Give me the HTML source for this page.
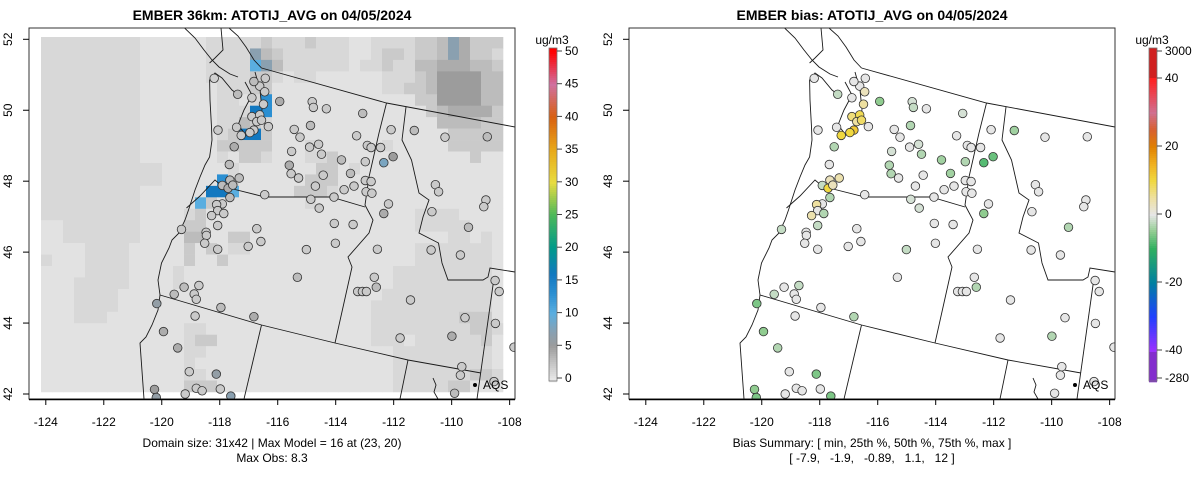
<!DOCTYPE html>
<html><head><meta charset="utf-8">
<style>
html,body{margin:0;padding:0;background:#fff;}
svg text{font-family:"Liberation Sans",Arial,sans-serif;fill:#000;white-space:pre;}
</style></head>
<body>
<svg id="root" xmlns="http://www.w3.org/2000/svg" width="1200" height="479" viewBox="0 0 1200 479">
<defs>
<clipPath id="clipL"><rect x="29" y="28" width="486" height="371"/></clipPath>
</defs>
<g id="panelL"></g>
<g id="panelR" transform="translate(600,0)"></g>
</svg>
<script>
// ---- data ----
var xTicks = [-124, -122, -120, -118, -116, -114, -112, -110, -108];
var yTicks = [42, 44, 46, 48, 50, 52];
var siteLon = [-118.19,-116.43,-116.62,-116.45,-116.82,-117.38,-116.89,-116.49,-115.93,-114.81,-114.77,-114.32,-113.07,-116.89,-116.62,-116.72,-116.56,-117.42,-116.32,-116.82,-116.96,-117.26,-118.06,-115.43,-114.87,-115.23,-112.09,-111.29,-110.23,-108.77,-113.28,-117.50,-115.52,-114.90,-114.59,-114.49,-112.91,-112.78,-112.45,-112.34,-112.02,-113.80,-112.98,-117.67,-115.60,-115.54,-115.28,-114.43,-113.49,-117.33,-117.65,-117.91,-117.71,-117.55,-117.65,-112.98,-112.78,-114.70,-113.37,-113.71,-112.95,-112.75,-116.45,-114.86,-114.06,-114.57,-117.91,-118.11,-118.07,-117.86,-118.28,-112.18,-112.34,-110.56,-110.45,-108.82,-108.89,-110.68,-118.07,-119.32,-118.47,-118.46,-118.52,-116.72,-116.58,-117.02,-118.07,-114.05,-113.40,-114.01,-115.01,-112.56,-109.42,-110.71,-109.70,-115.32,-112.67,-113.24,-113.08,-112.94,-112.60,-111.42,-108.50,-108.36,-118.72,-119.23,-119.57,-118.88,-118.81,-120.17,-117.96,-118.85,-116.82,-109.54,-108.49,-119.94,-111.78,-109.99,-107.85,-119.45,-119.05,-118.12,-109.65,-109.70,-120.25,-118.81,-118.61,-117.98,-119.19,-109.90,-108.54,-120.19,-117.62];
var siteLat = [50.90,50.90,50.68,50.52,50.81,50.45,50.35,50.17,50.25,50.24,50.08,50.04,49.91,49.82,49.87,49.68,49.72,49.52,49.54,49.44,49.37,49.29,49.44,49.46,49.57,49.24,49.45,49.43,49.24,49.25,49.28,48.97,48.84,48.96,49.04,48.76,49.01,48.95,48.95,48.52,48.69,48.60,48.55,48.47,48.45,48.21,48.09,48.17,48.22,48.09,48.03,47.88,47.80,47.89,47.54,48.02,47.99,47.86,47.86,47.76,47.70,47.66,47.62,47.49,47.55,47.24,47.36,47.34,47.17,47.09,47.03,47.36,47.09,47.90,47.70,47.47,47.28,47.14,46.75,46.64,46.56,46.47,46.25,46.66,46.30,46.16,46.08,46.81,46.78,46.25,46.07,46.08,46.70,46.06,45.92,45.29,45.29,44.89,44.89,44.89,45.01,44.65,45.20,44.89,45.06,45.01,44.81,44.82,44.67,44.55,44.44,44.20,44.18,44.15,43.99,43.76,43.58,43.63,43.32,43.30,42.63,42.56,42.77,42.53,42.13,42.16,42.09,42.14,42.00,42.02,42.35,41.90,41.94];
var siteObs = [1.5,2,2,2,3,3,2,2,4,2,2,2,3,2,2,2,2,2,2,2,2,2,2,2,3,2,2,3,2,3,2,4,2,2,2,2,2,2,2,8,5,3,2,3,4,2,2,2,3,3,3,3,4,3,3,2,2,2,2,2,2,2,2,2,2,2,2,2,2,2,2,2,4,2,2,2,2,2,2,2,2,2,2,2,2,2,2,2,2,2,2,2,3,2,2,3,2,2,2,2,3,2,2,2,2,3,3,2,2,6,3,2,4,2,2,4,2,4,2,4,2,6,2,2,5,2,2,2,2,3,2,6,7];
var siteBias = [0,0,0,3,0,-2,0,5,-5,-1,-2,0,-1,7,9,5,8,0,0,12,10,10,0,0,-3,0,0,-4,0,0,0,-3,-1,0,-1,-3,0,0,0,-8,-7,-4,-3,0,-3,-3,0,0,-4,4,3,-2,10,3,-3,0,0,0,0,0,0,0,0,-1,0,-1,0,5,0,-3,4,0,-5,0,0,0,0,0,-2,-2,0,0,0,0,0,0,0,0,0,0,-2,0,-3,0,0,0,0,0,0,0,-3,0,0,0,-2,0,-2,0,0,-6,0,0,-3,0,0,-5,0,-3,0,-3,0,-6,0,0,-5,0,0,0,0,0,0,-6,-6];
var gridRows = [
"aaaaaaaaa" + "....." + ".aaaaab" + "aaabaaa" + "..aaaab" + "bcgdbbb",
"aaaaaaaaa" + "....." + ".aaaagc" + "baaaaaa" + "..abbab" + "bcgdbba",
"aaaaaaaaa" + "....." + ".aaaalg" + "caaaaaa" + ".aabaac" + "cdddccb",
"aaaaaaaaa" + "....." + ".aaaabb" + "a.aa..." + "...aaab" + "ceeeecc",
"aaaaaaaaa" + "....." + "..aaabb" + "......." + "...aabb" + "ceeeecc",
"aaaaaaaaa" + "....." + "..aa.am" + "......." + "......b" + "beeeecc",
"aaaaaaaaa" + "....." + "..aaanm" + "......." + "......." + "bcddddb",
"aaaaaaaaa" + "....." + "..aacba" + "......." + "......." + ".ccccbb",
"aaaaaaaaa" + "....." + "..abnnb" + "......." + "......." + "..bbbbb",
"aaaaaaaaa" + "....." + "..bbbbb" + "...a..." + "...a..." + "..bbbbb",
"aaaaaaaaa" + "....." + "..a.bba" + "...aab." + "......." + "....b..",
"aaaaaaaaa" + "aa..." + "...a..." + "....bb." + "a......" + ".......",
"aaaaaaaaa" + "aa..." + "..ma..." + "...bbb." + "......." + ".......",
"aaaaaaaaa" + "....." + ".nnl..." + "..bbba." + "......." + ".......",
"aaaaaaaaa" + "....." + "lb....." + "...a..." + "......." + ".......",
"aaaaaaaaa" + "....a" + "b......" + "......." + "......a" + "aaa....",
"..aaaaaaa" + "....b" + "b......" + "......." + "......a" + "aaaa...",
"..aaaaaaa" + "....c" + "c..bb.." + "......." + "......." + "..aa.a.",
"....aaaa." + "....b" + ".b.aa.." + "......." + "......a" + "aaaaaa.",
"a...aaaa." + "....b" + "..b...." + "......." + "......a" + "aaaaaa.",
"....aaaa." + "...a." + "......." + "......." + "....aaa" + "aaaaaa.",
"...aaaaa." + "...a." + "......." + "......." + "....aaa" + "aaaaaa.",
"...aaaa.." + "....." + "......." + "......." + "...aaaa" + "aaaaaa.",
"...aaaa.." + "....." + "......." + "......." + "..aaaaa" + "aaaaaa.",
"...aaa..." + "....." + "......." + "......." + "..aaaaa" + "aaabbb.",
"........." + "....a" + "a......" + "......." + "..aaaaa" + "aaaabba",
"........." + "....a" + "bb....." + "......." + "..aaa.a" + "aaaaab.",
"........." + "....a" + "a......" + "......." + "....aaa" + "aaaaaa.",
"........." + "....a" + "......." + "......." + "....aaa" + "aaaaaa.",
"........." + "....a" + "a......" + "......." + "....aaa" + "aaaabba",
"........." + "....b" + "bb....." + "......." + "....aaa" + "aabb..."
];
var levelChars = ".abcdeglmn";
var levelValues = [0.3, 1, 2, 3, 4, 5, 7, 10, 13, 16];
var modelTicks = [0, 5, 10, 15, 20, 25, 30, 35, 40, 45, 50];
var biasTickLabels = ["3000", "40", "20", "0", "-20", "-40", "-280"];
var biasTickValues = [48, 40, 20, 0, -20, -40, -48];

// ---- scales ----
function xS(lon){ return 45.8 + (lon + 124) * 28.99; }
function yS(lat){ return 39.3 + (52 - lat) * 35.47; }
var mStops = [[0,[230,230,230]],[1,[216,216,216]],[2,[202,202,202]],[3,[188,188,188]],[4,[172,172,172]],[5,[156,156,156]],[7,[138,160,176]],[10,[90,174,224]],[13,[43,143,210]],[16,[18,120,192]],[20,[0,154,138]],[25,[76,184,90]],[30,[232,220,64]],[35,[232,168,24]],[40,[216,96,16]],[45,[208,112,160]],[50,[255,0,0]]];
var bStops = [[-50,[106,42,154]],[-40,[155,48,255]],[-30,[32,64,255]],[-20,[0,128,160]],[-10,[48,176,96]],[-5,[144,204,144]],[0,[230,230,230]],[5,[238,224,160]],[10,[240,216,64]],[15,[240,176,32]],[20,[224,128,0]],[25,[216,96,48]],[30,[208,112,144]],[40,[255,32,32]],[50,[160,32,32]]];
function interp(stops, v){
  if (v <= stops[0][0]) v = stops[0][0];
  if (v >= stops[stops.length-1][0]) v = stops[stops.length-1][0];
  for (var i = 0; i < stops.length-1; i++){
    var a = stops[i], b = stops[i+1];
    if (v >= a[0] && v <= b[0]){
      var t = (v - a[0]) / (b[0] - a[0] || 1);
      var c = [0,1,2].map(function(k){ return Math.round(a[1][k] + (b[1][k]-a[1][k]) * t); });
      return "rgb(" + c.join(",") + ")";
    }
  }
  return "#e6e6e6";
}
function mY(v){ return 378 - v * 6.54; }
function bY(v){ return 214 - v * 3.4; }

var NS = "http://www.w3.org/2000/svg";
function mk(tag, parent, attrs){
  var e = document.createElementNS(NS, tag);
  for (var k in attrs) e.setAttribute(k, attrs[k]);
  parent.appendChild(e);
  return e;
}

var borders = [
 [[261.5,68],[386.5,103],[515,127]],
 [[386.5,103],[379,133],[369,177],[365,205],[373,220],[369,233],[348,257],[352,267],[335,343]],
 [[406,107],[402,140],[411.5,160],[419,193],[429,200],[423,217],[419,233],[438.5,243],[442,263],[448,280],[483,280],[488,277],[490,268],[515,272]],
 [[229,188],[265,197],[331,197],[365,207]],
 [[160,295],[261.5,325],[335,343],[408,360],[481,373]],
 [[261.5,325],[244,399]],
 [[408,360],[400,399]],
 [[494,278],[477,399]],
 [[144,399],[140,343],[146,337],[152,325],[158,310],[160,295],[158,280],[161.5,263],[169,248],[172,240],[179,233],[185,220],[188.5,210],[195,190],[200,177],[205,165],[209.6,157],[212,140],[211.5,127],[210,100],[209.6,80],[215,73],[222,78],[232,90],[240,96]],
 [[184.6,28],[195,38],[204,50],[212,60],[219,67],[230,74],[238,77]],
 [[221,28],[223,50],[215,58],[209.6,63]],
 [[229,28],[238,36],[246,47],[254,60],[261.5,68]],
 [[186.5,208],[200,196],[215,180],[222,186],[229,188]],
 [[245,82],[252,95],[244,110],[238,125],[246,135],[255,128],[262,110],[260,90],[255,72]],
 [[433,378],[436,385],[434,392],[438,399]]
];

function drawPanel(g, isBias){
  var title = mk("text", g, {x:272, y:20, "text-anchor":"middle", "font-size":"14", "font-weight":"bold"});
  title.textContent = isBias ? "EMBER bias: ATOTIJ_AVG on 04/05/2024" : "EMBER 36km: ATOTIJ_AVG on 04/05/2024";
  
  

  var plot = mk("g", g, {"clip-path": "url(#clipL)"});
  
  

  if (!isBias){
    var grid = mk("g", plot, {});
    
    
    for (var r = 0; r < gridRows.length; r++){
      for (var c = 0; c < 42; c++){
        var ch = gridRows[r].charAt(c) || ".";
        var idx = levelChars.indexOf(ch); if (idx < 0) idx = 0;
        var cell = mk("rect", grid, {x: 41 + 11*c, y: (37 + 11.45*r).toFixed(2), width: 11.3, height: 11.75, fill: interp(mStops, levelValues[idx])});
        
        
      }
    }
  }
  var lines = mk("g", plot, {fill:"none", stroke:"#1a1a1a", "stroke-width":"0.9"});
  
  
  borders.forEach(function(b){
    var pl = mk("polyline", lines, {points: b.map(function(p){ return p.join(","); }).join(" ")});
    
    
  });
  var dots = mk("g", plot, {});
  
  
  for (var i = 0; i < siteLon.length; i++){
    var col = isBias ? interp(bStops, siteBias[i]) : interp(mStops, siteObs[i]);
    var ci = mk("circle", dots, {cx: xS(siteLon[i]).toFixed(1), cy: yS(siteLat[i]).toFixed(1), r: 4.3, fill: col, stroke: "#333", "stroke-width": "0.8"});
    
    
  }
  var ad = mk("circle", g, {cx: 475, cy: 385, r: 2, fill: "#000"});
  
  
  var at = mk("text", g, {x: 483, y: 389, "font-size": "12"});
  at.textContent = "AQS";
  
  

  var frame = mk("rect", g, {x: 29, y: 28, width: 486, height: 371, fill: "none", stroke: "#333", "stroke-width": "1"});
  
  
  var xa = mk("line", g, {x1: 29, y1: 399.5, x2: 515, y2: 399.5, stroke: "#000", "stroke-width": "1.5"});
  
  

  xTicks.forEach(function(t){
    var x = xS(t);
    var tk = mk("line", g, {x1: x, y1: 399, x2: x, y2: 405, stroke: "#000"});
    
    
    var tl = mk("text", g, {x: x, y: 426, "text-anchor": "middle", "font-size": "12"});
    tl.textContent = String(t);
    
    
  });
  yTicks.forEach(function(t){
    var y = yS(t);
    var tk = mk("line", g, {x1: 23, y1: y, x2: 29, y2: y, stroke: "#000"});
    
    
    var tl = mk("text", g, {x: 0, y: 0, "text-anchor": "middle", "font-size": "12", transform: "translate(12," + y + ") rotate(-90)"});
    tl.textContent = String(t);
    
    
  });

  var c1 = mk("text", g, {x: 272, y: 447, "text-anchor": "middle", "font-size": "12"});
  c1.textContent = isBias ? "Bias Summary: [ min, 25th %, 50th %, 75th %, max ]" : "Domain size: 31x42 | Max Model = 16 at (23, 20)";
  
  
  var c2 = mk("text", g, {x: 272, y: 462, "text-anchor": "middle", "font-size": "12"});
  c2.textContent = isBias ? "[ -7.9,   -1.9,   -0.89,   1.1,   12 ]" : "Max Obs: 8.3";
  
  

  var cb = mk("g", g, {});
  
  
  for (var y = 48; y < 381; y += 2){
    var v;
    if (isBias){ v = (214 - y) / 3.4; if (y < 78) v = 45; if (y > 351) v = -45; }
    else { v = (378 - y) / 6.54; }
    var s = mk("rect", cb, {x: 549, y: y, width: 8, height: 2.3, fill: interp(isBias ? bStops : mStops, v)});
    
    
  }
  var cbf = mk("rect", cb, {x: 549, y: 48, width: 8, height: 333, fill: "none", stroke: "#777", "stroke-width": "0.8"});
  
  
  var unit = mk("text", g, {x: 552, y: 44, "text-anchor": "middle", "font-size": "12"});
  unit.textContent = "ug/m3";
  
  
  var labs = isBias ? biasTickLabels : modelTicks.map(String);
  var vals = isBias ? biasTickValues : modelTicks;
  for (var k = 0; k < labs.length; k++){
    var yy;
    if (isBias){ yy = vals[k] === 48 ? 51 : (vals[k] === -48 ? 378 : bY(vals[k])); }
    else yy = mY(vals[k]);
    var tk2 = mk("line", g, {x1: 557, y1: yy, x2: 562, y2: yy, stroke: "#444"});
    
    
    var tl2 = mk("text", g, {x: 565, y: yy + 4, "font-size": "12"});
    tl2.textContent = labs[k];
    
    
  }
}
drawPanel(document.getElementById("panelL"), false);
drawPanel(document.getElementById("panelR"), true);
</script>
</body></html>
